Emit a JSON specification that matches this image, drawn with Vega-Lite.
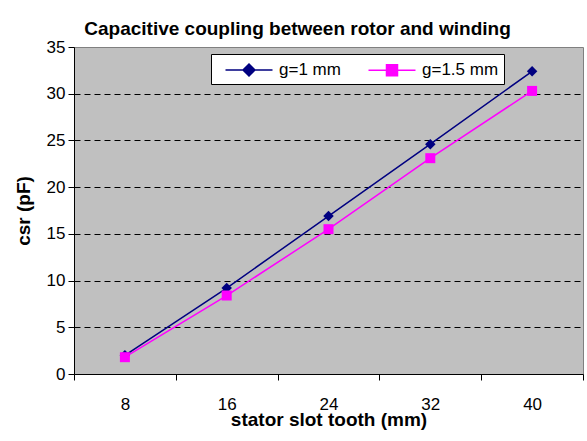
{
  "$schema": "https://vega.github.io/schema/vega-lite/v6.json",
  "width": 509,
  "height": 327,
  "autosize": {"type": "none"},
  "padding": {"left": 74, "top": 47, "right": 4, "bottom": 67},
  "background": "white",
  "title": {
    "text": "Capacitive coupling between rotor and winding",
    "font": "Liberation Sans",
    "fontSize": 19,
    "fontWeight": "bold",
    "color": "black",
    "anchor": "middle",
    "dx": -31,
    "offset": -1
  },
  "data": {
    "values": [
      {"x": 8, "series": "g=1 mm", "csr": 2.0},
      {"x": 16, "series": "g=1 mm", "csr": 9.2},
      {"x": 24, "series": "g=1 mm", "csr": 16.9},
      {"x": 32, "series": "g=1 mm", "csr": 24.6},
      {"x": 40, "series": "g=1 mm", "csr": 32.4},
      {"x": 8, "series": "g=1.5 mm", "csr": 1.8},
      {"x": 16, "series": "g=1.5 mm", "csr": 8.4},
      {"x": 24, "series": "g=1.5 mm", "csr": 15.5},
      {"x": 32, "series": "g=1.5 mm", "csr": 23.1},
      {"x": 40, "series": "g=1.5 mm", "csr": 30.3}
    ]
  },
  "encoding": {
    "x": {
      "field": "x",
      "type": "ordinal",
      "bandPosition": 0.5,
      "scale": {"type": "band", "paddingInner": 0, "paddingOuter": 0},
      "axis": {
        "title": "stator slot tooth (mm)",
        "titleFont": "Liberation Sans",
        "titleFontSize": 19,
        "titleFontWeight": "bold",
        "titleColor": "black",
        "titlePadding": -2,
        "labelFont": "Liberation Sans",
        "labelFontSize": 17,
        "labelColor": "black",
        "labelAngle": 0,
        "labelPadding": 16,
        "tickBand": "extent",
        "tickSize": 6,
        "tickColor": "black",
        "domainColor": "black",
        "grid": false
      }
    },
    "y": {
      "field": "csr",
      "type": "quantitative",
      "scale": {"domain": [0, 35], "nice": false},
      "axis": {
        "title": "csr (pF)",
        "titleFont": "Liberation Sans",
        "titleFontSize": 19,
        "titleFontWeight": "bold",
        "titleColor": "black",
        "titlePadding": 13,
        "values": [0, 5, 10, 15, 20, 25, 30, 35],
        "labelFont": "Liberation Sans",
        "labelFontSize": 17,
        "labelColor": "black",
        "labelPadding": 3,
        "tickSize": 6,
        "tickColor": "black",
        "domainColor": "black",
        "grid": true,
        "gridColor": "black",
        "gridDash": [6, 4],
        "gridOpacity": {"condition": {"test": "datum.value == 0 || datum.value == 35", "value": 0}, "value": 1}
      }
    },
    "color": {
      "field": "series",
      "type": "nominal",
      "scale": {"domain": ["g=1 mm", "g=1.5 mm"], "range": ["#000080", "#FF00FF"]},
      "legend": {
        "orient": "none",
        "legendX": 137,
        "legendY": 7,
        "direction": "horizontal",
        "title": null,
        "fillColor": "white",
        "strokeColor": "black",
        "padding": 5,
        "symbolSize": 400,
        "symbolOffset": 22,
        "labelOffset": 19,
        "columnPadding": 18,
        "labelFont": "Liberation Sans",
        "labelFontSize": 17,
        "labelColor": "black",
        "encode": {
          "symbols": {
            "update": {
              "shape": {"signal": "datum.value == 'g=1 mm' ? 'M-2.35,0H2.35M0,-0.6L0.6,0L0,0.6L-0.6,0Z' : 'M-2.35,0H2.35M-0.55,-0.55H0.55V0.55H-0.55Z'"},
              "fill": {"signal": "datum.value == 'g=1 mm' ? '#000080' : '#FF00FF'"},
              "stroke": {"signal": "datum.value == 'g=1 mm' ? '#000080' : '#FF00FF'"},
              "strokeWidth": {"value": 1.5},
              "opacity": {"value": 1},
              "fillOpacity": {"value": 1}
            }
          }
        }
      }
    }
  },
  "layer": [
    {"mark": {"type": "line", "strokeWidth": 1.5}},
    {
      "transform": [{"filter": "datum.series == 'g=1 mm'"}],
      "mark": {"type": "point", "shape": "diamond", "filled": true, "opacity": 1, "size": 110}
    },
    {
      "transform": [{"filter": "datum.series == 'g=1.5 mm'"}],
      "mark": {"type": "point", "shape": "square", "filled": true, "opacity": 1, "size": 100}
    }
  ],
  "config": {
    "view": {"fill": "#C0C0C0", "stroke": "#808080", "strokeWidth": 1}
  }
}
